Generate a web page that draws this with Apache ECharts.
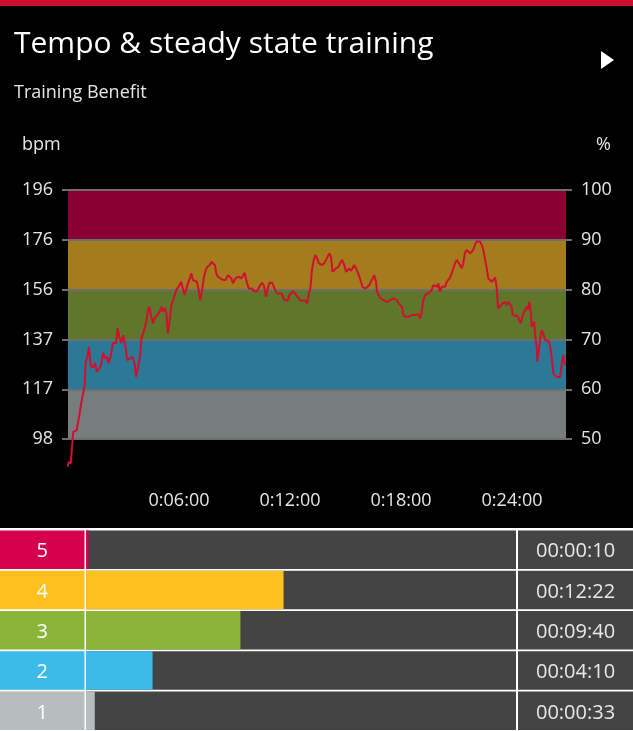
<!DOCTYPE html>
<html>
<head>
<meta charset="utf-8">
<script src="https://cdn.jsdelivr.net/npm/echarts@6/dist/echarts.min.js"></script>
<style>
html,body{margin:0;padding:0;background:#000;}
#c{width:633px;height:731px;}
</style>
</head>
<body>
<div id="c"></div>
<script>
// ---- data ----
const titleText = 'Tempo & steady state training';
const subtitleText = 'Training Benefit';
const maxHr = 196;
const totalSec = 1615;
const timeSec = [0,2,9,11,17,22,28,36,43,50,54,57,63,68,74,82,88,93,100,106,114,119,126,131,138,146,151,156,161,166,173,179,187,192,201,209,216,221,227,234,238,242,250,255,259,264,270,276,281,290,297,303,308,314,319,324,330,335,341,346,351,357,362,367,373,378,384,389,395,400,405,411,418,424,429,435,441,447,452,460,465,471,476,481,486,495,503,511,519,524,530,535,543,548,554,562,568,573,578,586,591,597,602,613,618,624,629,635,642,648,653,662,667,672,678,683,692,697,701,707,713,718,723,730,735,740,746,753,761,770,776,781,786,791,797,802,808,813,818,824,831,837,842,847,853,858,864,869,877,882,889,896,902,907,912,918,923,928,934,939,945,950,956,961,966,972,977,983,988,993,999,1002,1008,1013,1018,1024,1029,1035,1040,1045,1051,1056,1061,1067,1072,1078,1083,1087,1093,1098,1104,1109,1115,1120,1125,1131,1136,1142,1147,1152,1158,1163,1168,1174,1179,1185,1190,1196,1201,1206,1212,1217,1223,1228,1233,1239,1244,1250,1255,1261,1266,1271,1277,1282,1287,1293,1298,1304,1309,1314,1320,1325,1331,1336,1342,1347,1352,1358,1363,1369,1374,1379,1385,1390,1395,1401,1406,1412,1417,1423,1428,1433,1439,1442,1450,1457,1464,1468,1475,1482,1488,1491,1496,1501,1504,1509,1512,1515,1520,1522,1526,1531,1536,1541,1547,1552,1558,1563,1569,1574,1579,1585,1590,1596,1601,1606,1612];
const hrBpm = [87.1,89.1,88.4,88.7,100.9,100.4,101.5,106.8,112.2,116.6,119.3,127.9,130.4,134.3,126.5,126.3,128.0,124.5,125.6,126.7,132.0,129.9,130.4,127.9,130.4,135.8,136.3,135.8,141.7,138.3,135.8,138.9,134.3,129.1,129.8,130.4,127.9,122.5,123.2,130.4,137.6,138.9,142.2,144.8,148.8,150.0,146.1,143.5,145.6,146.8,148.1,150.1,148.1,149.6,147.6,139.6,144.8,150.7,152.7,153.4,156.6,157.3,158.6,159.9,159.3,154.7,157.3,159.3,161.2,163.2,160.6,161.2,159.9,156.6,152.7,156.6,161.9,164.5,165.8,166.5,167.8,168.2,166.5,163.2,161.9,161.2,160.6,160.6,162.5,161.9,161.2,159.3,161.2,160.9,161.9,161.2,161.9,163.5,160.6,157.3,156.6,157.3,156.2,156.2,156.0,158.6,159.5,158.6,154.0,157.3,159.5,159.5,159.3,156.6,155.3,156.0,155.3,154.0,152.7,153.4,152.4,154.7,155.3,156.2,156.0,154.7,155.3,152.7,152.4,152.4,151.4,155.3,157.3,164.5,168.5,170.4,169.1,167.2,167.8,166.5,167.2,167.8,169.7,171.1,169.7,163.8,163.2,165.2,165.8,167.2,168.5,166.5,163.8,163.8,165.2,164.2,165.2,166.5,165.2,164.5,161.9,159.9,157.7,157.3,157.3,157.9,158.6,159.3,161.2,162.5,159.9,156.0,155.3,153.4,152.7,152.7,153.1,152.0,151.6,152.7,152.7,153.4,154.0,152.7,151.4,151.1,150.1,147.2,146.1,146.5,146.1,146.1,146.8,147.5,146.8,146.5,147.1,145.5,148.1,152.7,154.7,154.7,155.3,154.7,156.6,158.6,159.3,157.9,159.3,156.0,157.9,158.6,157.9,159.9,160.6,161.5,161.2,165.2,167.2,168.5,167.8,166.5,165.2,167.2,171.1,172.4,172.4,171.1,170.4,172.4,174.4,175.7,176.3,175.7,174.4,172.4,169.1,165.2,161.2,160.6,159.9,159.9,161.5,157.9,149.4,150.1,151.0,150.7,152.0,150.7,152.0,152.0,150.1,146.8,146.5,146.5,144.8,143.5,146.8,148.8,150.1,148.8,152.0,148.1,142.2,141.6,144.2,138.9,134.3,128.4,128.4,137.0,140.9,139.6,137.0,137.0,136.6,135.0,129.8,123.9,123.9,122.5,123.2,122.5,127.1,131.1,127.1];
const pctTicks = [50, 60, 70, 80, 90, 100];
const bpmTickLabels = ['98', '117', '137', '156', '176', '196'];
const pctTickLabels = ['50', '60', '70', '80', '90', '100'];
const xTickValues = [360, 720, 1080, 1440];
const xTickLabels = ['0:06:00', '0:12:00', '0:18:00', '0:24:00'];
const zoneBandColors = ['#777c7c', '#2b7997', '#5f762b', '#a47c1e', '#8a0032'];
const zoneNames = ['1', '2', '3', '4', '5'];
const zoneSeconds = [33, 250, 580, 742, 10];
const zoneTimeLabels = ['00:00:33', '00:04:10', '00:09:40', '00:12:22', '00:00:10'];
const zoneColors = ['#b5bdbd', '#3cbae8', '#8cb33c', '#ffc120', '#d4004c'];
const zoneCellFull = [1, 1, 1, 1, 1];

// ---- build ----
const FONT = 'Open Sans';
const hrPct = timeSec.map((t, i) => [t, hrBpm[i] / maxHr * 100]);
const bandAreas = zoneBandColors.map((c, i) => [
  { yAxis: pctTicks[i], itemStyle: { color: c } },
  { yAxis: pctTicks[i + 1] }
]);
const bandLines = pctTicks.map(v => ({ yAxis: v }));

const chart = echarts.init(document.getElementById('c'), null, { renderer: 'canvas' });
const tableTop = 529.5, tableH = 201.5;

const option = {
  backgroundColor: '#000',
  animation: false,
  graphic: [
    { type: 'rect', shape: { x: 0, y: 0, width: 633, height: 6 }, style: { fill: '#c8102e' }, silent: true },
    { type: 'rect', z: -10, shape: { x: 0, y: 528, width: 633, height: 203 }, style: { fill: '#ffffff' }, silent: true },
    { type: 'text', style: { text: titleText, x: 14, y: 44, textVerticalAlign: 'middle', font: '30px "Open Sans"', fill: '#ffffff' } },
    { type: 'text', style: { text: subtitleText, x: 14, y: 93, textVerticalAlign: 'middle', font: '18px "Open Sans"', fill: '#e6e6e6' } },
    { type: 'polygon', shape: { points: [[601, 51], [614, 60], [601, 69]] }, style: { fill: '#ffffff' } },
    { type: 'text', style: { text: 'bpm', x: 22, y: 145, textVerticalAlign: 'middle', font: '18px "Open Sans"', fill: '#e6e6e6' } },
    { type: 'text', style: { text: '%', x: 611, y: 145, textAlign: 'right', textVerticalAlign: 'middle', font: '18px "Open Sans"', fill: '#e6e6e6' } }
  ],
  grid: [
    { left: 68, top: 190, width: 498, height: 299 },
    { left: 0, top: tableTop, width: 84.5, height: tableH },
    { left: 86, top: tableTop, width: 430, height: tableH },
    { left: 518, top: tableTop, width: 115, height: tableH }
  ],
  xAxis: [
    {
      gridIndex: 0, type: 'value', min: 0, max: totalSec, interval: 360,
      axisLine: { show: false }, axisTick: { show: false }, splitLine: { show: false },
      axisLabel: {
        customValues: xTickValues, margin: 3,
        formatter: v => xTickLabels[xTickValues.indexOf(v)] || '',
        color: '#e6e6e6', fontSize: 18, fontFamily: FONT
      }
    },
    { gridIndex: 1, type: 'value', min: 0, max: 1, show: false },
    { gridIndex: 2, type: 'value', min: 0, max: totalSec, show: false },
    { gridIndex: 3, type: 'value', min: 0, max: 1, show: false }
  ],
  yAxis: [
    {
      gridIndex: 0, type: 'value', position: 'left', min: 40, max: 100, interval: 10,
      axisLine: { show: false }, splitLine: { show: false },
      axisTick: { show: true, customValues: pctTicks, length: 6, lineStyle: { color: '#6e6e6e', width: 2 } },
      axisLabel: {
        customValues: pctTicks, margin: 15,
        formatter: v => bpmTickLabels[pctTicks.indexOf(v)] || '',
        color: '#e6e6e6', fontSize: 18, fontFamily: FONT
      }
    },
    {
      gridIndex: 0, type: 'value', position: 'right', min: 40, max: 100, interval: 10,
      axisLine: { show: false }, splitLine: { show: false },
      axisTick: { show: true, customValues: pctTicks, length: 6, lineStyle: { color: '#6e6e6e', width: 2 } },
      axisLabel: {
        customValues: pctTicks, margin: 15,
        formatter: v => pctTickLabels[pctTicks.indexOf(v)] || '',
        color: '#e6e6e6', fontSize: 18, fontFamily: FONT
      }
    },
    { gridIndex: 1, type: 'category', data: zoneNames, show: false },
    { gridIndex: 2, type: 'category', data: zoneNames, show: false },
    { gridIndex: 3, type: 'category', data: zoneNames, show: false }
  ],
  series: [
    {
      name: 'zones', type: 'line', xAxisIndex: 0, yAxisIndex: 0, data: [], z: 1, silent: true,
      markArea: { silent: true, label: { show: false }, data: bandAreas },
      markLine: {
        silent: true, symbol: 'none', label: { show: false },
        lineStyle: { type: 'solid', color: '#6e6e6e', width: 2 },
        emphasis: { disabled: true },
        data: bandLines
      }
    },
    {
      name: 'hr', type: 'line', xAxisIndex: 0, yAxisIndex: 0, data: hrPct, z: 5,
      showSymbol: false, symbol: 'none', silent: true,
      lineStyle: { color: '#d0102f', width: 2 }
    },
    {
      name: 'zoneCells', type: 'bar', xAxisIndex: 1, yAxisIndex: 2, silent: true,
      barWidth: 38.5,
      data: zoneCellFull.map((v, i) => ({ value: v, itemStyle: { color: zoneColors[i] } })),
      label: {
        show: true, position: 'inside', offset: [0, 2], formatter: p => zoneNames[p.dataIndex],
        color: '#ffffff', fontSize: 20, fontFamily: FONT
      }
    },
    {
      name: 'zoneTime', type: 'bar', xAxisIndex: 2, yAxisIndex: 3, silent: true,
      barWidth: 38.5, showBackground: true, backgroundStyle: { color: '#444444' },
      data: zoneSeconds.map((v, i) => ({ value: v, itemStyle: { color: zoneColors[i] } }))
    },
    {
      name: 'zoneTimeText', type: 'bar', xAxisIndex: 3, yAxisIndex: 4, silent: true,
      barWidth: 38.5,
      data: zoneCellFull.map(v => ({ value: v, itemStyle: { color: '#444444' } })),
      label: {
        show: true, position: 'inside', offset: [0, 2], formatter: p => zoneTimeLabels[p.dataIndex],
        color: '#e8e8e8', fontSize: 20, fontFamily: FONT
      }
    }
  ]
};
chart.setOption(option);
</script>
</body>
</html>
